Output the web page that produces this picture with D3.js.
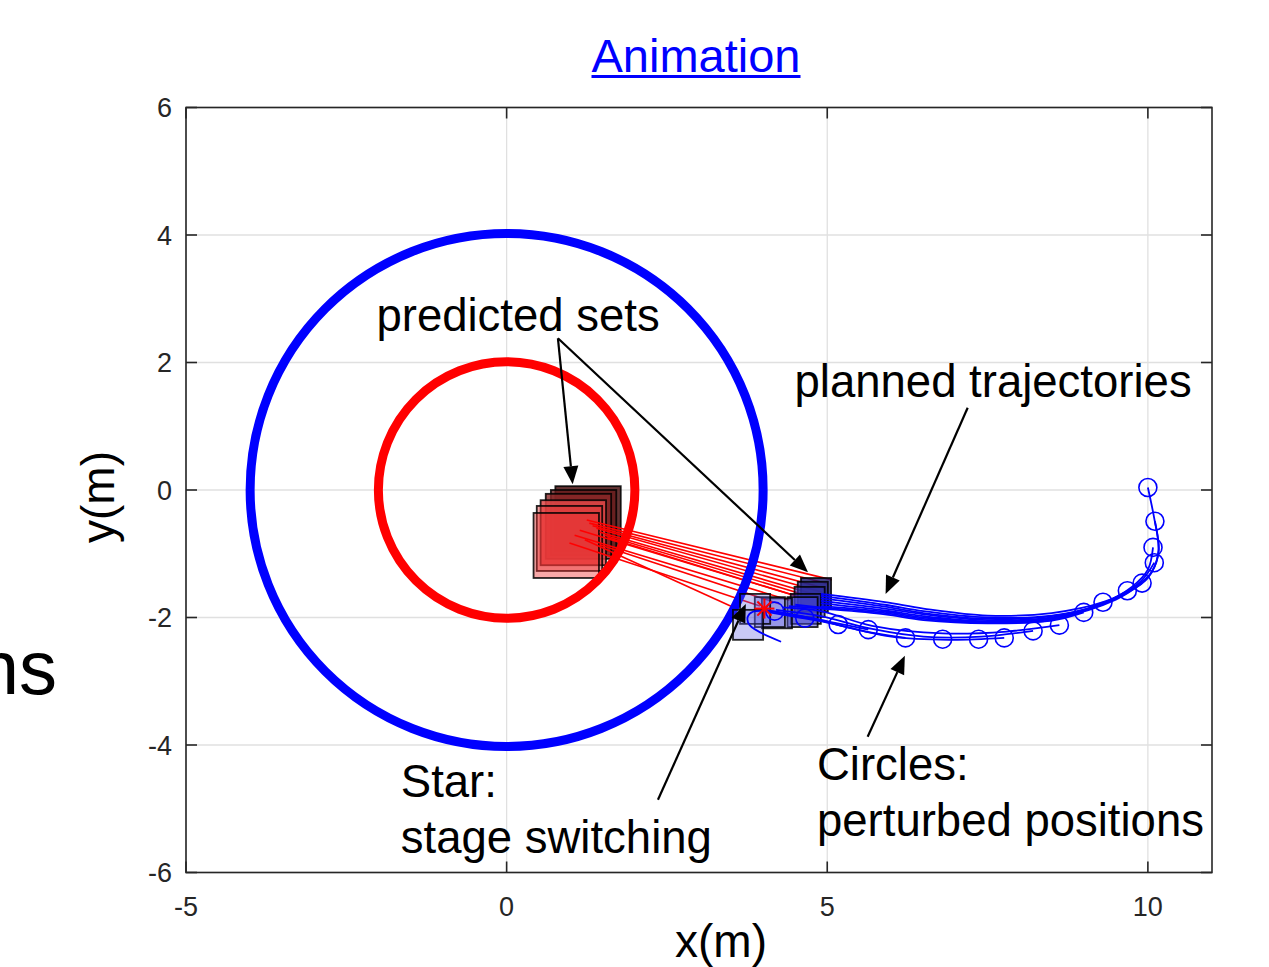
<!DOCTYPE html>
<html><head><meta charset="utf-8">
<script src="https://cdn.jsdelivr.net/npm/d3@7"></script>
<style>
body{margin:0;background:#fff}
svg{display:block}
text{font-family:"Liberation Sans",Arial,Helvetica,sans-serif}
</style>
</head><body>
<svg id="chart" width="1269" height="967"></svg>
<script>
// ---- axis setup ----
const xDomain = [-5, 11];
const yDomain = [-6, 6];
const xTicks = [-5, 0, 5, 10];
const yTicks = [-6, -4, -2, 0, 2, 4, 6];

// ---- reference circles (centred at origin) ----
const safeRadius = 4;      // outer blue ring
const obstacleRadius = 2;  // inner red ring

// ---- perturbed vehicle positions ----
const perturbedX = [10.0, 10.11, 10.08, 10.10, 9.91, 9.68, 9.30, 9.00, 8.62, 8.21, 7.76, 7.36, 6.80, 6.22, 5.64, 5.17, 4.65, 4.18];
const perturbedY = [0.04, -0.49, -0.90, -1.14, -1.46, -1.58, -1.76, -1.92, -2.12, -2.21, -2.32, -2.34, -2.34, -2.32, -2.19, -2.11, -2.01, -1.90];

// ---- stage-switching point ----
const switchPoint = [4.02, -1.86];

// ---- predicted sets of the obstacle: [xmin, ymax, side] ----
const obstacleSets = [
  [0.76, 0.06, 1.02],
  [0.69, 0.00, 1.02],
  [0.61, -0.06, 1.02],
  [0.53, -0.16, 1.02],
  [0.47, -0.25, 1.02],
  [0.42, -0.36, 1.02]
];
const obstacleFill = ["#4a1010", "#6a1c1c", "#8c2828", "#e04848", "#e83838", "#ee3030"];
const obstacleAlpha = [0.85, 0.8, 0.8, 0.85, 0.45, 0.42];

// ---- predicted sets of the vehicle: [xmin, ymax, side] ----
const vehicleSets = [
  [4.59, -1.38, 0.47],
  [4.54, -1.44, 0.47],
  [4.49, -1.52, 0.47],
  [4.43, -1.63, 0.47],
  [4.38, -1.68, 0.47],
  [3.98, -1.70, 0.47],
  [3.87, -1.68, 0.47],
  [3.64, -1.63, 0.47],
  [3.53, -1.88, 0.47]
];
const vehicleFill = ["#1a1a70", "#2a2a90", "#3030b0", "#3838c0", "#4848d0", "#5050d8", "#5858dc", "#5a5ae0", "#5a5ae0"];
const vehicleAlpha = [0.8, 0.7, 0.6, 0.55, 0.5, 0.4, 0.35, 0.33, 0.33];

// ---- relative links between predicted sets: [x0, y0, x1, y1] ----
const links = [
  [1.25, -0.47, 5.07, -1.41],
  [1.29, -0.52, 5.01, -1.47],
  [1.34, -0.56, 4.96, -1.54],
  [1.40, -0.60, 4.91, -1.60],
  [1.45, -0.66, 4.85, -1.65],
  [1.53, -0.71, 4.80, -1.69],
  [1.58, -0.75, 4.73, -1.73],
  [1.14, -0.63, 4.57, -1.68],
  [1.06, -0.71, 4.41, -1.73],
  [0.98, -0.83, 3.95, -1.82],
  [1.22, -0.78, 3.56, -1.85],
  [1.45, -0.86, 4.26, -1.79]
];

// ---- planned trajectories (one per replanning step) ----
const plans = [
  [[10.0,0.04],[10.1,-0.45],[10.17,-0.95],[10.05,-1.3],[9.8,-1.52],[9.3,-1.76],[8.5,-1.93],[7.5,-1.97],[6.5,-1.86],[5.9,-1.76],[4.9,-1.63]],
  [[10.11,-0.49],[10.16,-1.0],[10.0,-1.38],[9.7,-1.6],[9.25,-1.8],[8.5,-1.97],[7.5,-2.0],[6.5,-1.9],[5.9,-1.8],[4.9,-1.66]],
  [[10.08,-0.90],[10.0,-1.25],[9.75,-1.52],[9.3,-1.78],[8.5,-1.98],[7.5,-2.02],[6.5,-1.93],[5.9,-1.83],[4.9,-1.70]],
  [[10.10,-1.14],[9.9,-1.42],[9.4,-1.75],[8.5,-2.0],[7.5,-2.04],[6.5,-1.95],[5.9,-1.86],[4.9,-1.74]],
  [[9.91,-1.46],[9.5,-1.72],[8.6,-2.0],[7.5,-2.06],[6.5,-1.98],[5.9,-1.89],[4.9,-1.78]],
  [[9.68,-1.58],[9.2,-1.82],[8.5,-2.02],[7.5,-2.07],[6.5,-2.0],[5.9,-1.91],[4.9,-1.82]],
  [[9.30,-1.76],[8.5,-2.04],[7.5,-2.08],[6.5,-2.02],[5.9,-1.93],[4.9,-1.84],[4.5,-1.80]],
  [[9.00,-1.92],[8.5,-2.05],[7.5,-2.09],[6.5,-2.04],[5.9,-1.95],[4.9,-1.86],[4.4,-1.82]],
  [[8.62,-2.12],[7.8,-2.22],[6.8,-2.25],[5.7,-2.13],[4.9,-1.90],[4.3,-1.84]],
  [[8.21,-2.21],[7.4,-2.30],[6.5,-2.30],[5.7,-2.18],[4.9,-1.98],[4.2,-1.88]],
  [[7.76,-2.32],[6.9,-2.35],[6.0,-2.30],[5.3,-2.15],[4.9,-2.05],[4.2,-1.92]],
  [[6.22,-2.32],[5.6,-2.22],[5.0,-2.08],[4.5,-1.99],[4.1,-1.92]],
  [[5.64,-2.19],[5.2,-2.10],[4.7,-2.00],[4.2,-1.92]],
  [[5.17,-2.11],[4.6,-1.98],[4.05,-1.88]],
  [[4.28,-2.38],[3.79,-2.12],[3.76,-1.99],[3.84,-1.91],[4.18,-1.91],[4.46,-1.96]]
];

// ---- callouts: label lines, text anchor, arrow tail/head in data units ----
const callouts = [
  {lines: ["predicted sets"], at: [-2.03, 2.50], arrows: [[0.80, 2.38, 1.03, 0.09], [0.80, 2.38, 4.70, -1.29]]},
  {lines: ["planned trajectories"], at: [4.49, 1.46], arrows: [[7.19, 1.29, 5.91, -1.63]]},
  {lines: ["Circles:", "perturbed positions"], at: [4.84, -4.55], arrows: [[5.63, -3.87, 6.21, -2.60]]},
  {lines: ["Star:", "stage switching"], at: [-1.65, -4.82], arrows: [[2.36, -4.86, 3.73, -1.79]]}
];

// ---- drawing ----
const svg = d3.select("#chart");
const m = {left: 186, right: 1212, top: 107.5, bottom: 872.5};
const x = d3.scaleLinear().domain(xDomain).range([m.left, m.right]);
const y = d3.scaleLinear().domain(yDomain).range([m.bottom, m.top]);
const axisColor = "#262626";

svg.append("defs").append("clipPath").attr("id", "plotClip")
  .append("rect").attr("x", m.left).attr("y", m.top)
  .attr("width", m.right - m.left).attr("height", m.bottom - m.top);

// grid
const grid = svg.append("g");
grid.selectAll(".gx").data(xTicks).join("line")
  .attr("x1", d => x(d)).attr("x2", d => x(d))
  .attr("y1", m.top).attr("y2", m.bottom)
  .attr("stroke", "#e0e0e0").attr("stroke-width", 1.3);
grid.selectAll(".gy").data(yTicks).join("line")
  .attr("x1", m.left).attr("x2", m.right)
  .attr("y1", d => y(d)).attr("y2", d => y(d))
  .attr("stroke", "#e0e0e0").attr("stroke-width", 1.3);

const plot = svg.append("g").attr("clip-path", "url(#plotClip)");

// obstacle predicted sets
plot.selectAll(".obs").data(obstacleSets).join("rect")
  .attr("x", d => x(d[0])).attr("y", d => y(d[1]))
  .attr("width", d => x(d[0] + d[2]) - x(d[0]))
  .attr("height", d => y(d[1] - d[2]) - y(d[1]))
  .attr("fill", (d, i) => obstacleFill[i]).attr("fill-opacity", (d, i) => obstacleAlpha[i])
  .attr("stroke", "#000").attr("stroke-opacity", 0.85).attr("stroke-width", 1.8);

// links
plot.selectAll(".lnk").data(links).join("line")
  .attr("x1", d => x(d[0])).attr("y1", d => y(d[1]))
  .attr("x2", d => x(d[2])).attr("y2", d => y(d[3]))
  .attr("stroke", "#ff0000").attr("stroke-width", 1.6);

// rings
plot.append("circle").attr("cx", x(0)).attr("cy", y(0))
  .attr("r", x(safeRadius) - x(0)).attr("fill", "none")
  .attr("stroke", "#0000ff").attr("stroke-width", 9);
plot.append("circle").attr("cx", x(0)).attr("cy", y(0))
  .attr("r", x(obstacleRadius) - x(0)).attr("fill", "none")
  .attr("stroke", "#ff0000").attr("stroke-width", 9);

// vehicle predicted sets
plot.selectAll(".veh").data(vehicleSets).join("rect")
  .attr("x", d => x(d[0])).attr("y", d => y(d[1]))
  .attr("width", d => x(d[0] + d[2]) - x(d[0]))
  .attr("height", d => y(d[1] - d[2]) - y(d[1]))
  .attr("fill", (d, i) => vehicleFill[i]).attr("fill-opacity", (d, i) => vehicleAlpha[i])
  .attr("stroke", "#000").attr("stroke-opacity", 0.85).attr("stroke-width", 1.8);

// planned trajectories
const line = d3.line().x(d => x(d[0])).y(d => y(d[1])).curve(d3.curveCatmullRom.alpha(0.5));
plot.selectAll(".plan").data(plans).join("path")
  .attr("d", line).attr("fill", "none")
  .attr("stroke", "#0000ff").attr("stroke-width", 1.8);

// perturbed positions
plot.selectAll(".pp").data(perturbedX).join("circle")
  .attr("cx", d => x(d)).attr("cy", (d, i) => y(perturbedY[i])).attr("r", 9)
  .attr("fill", "none").attr("stroke", "#0000ff").attr("stroke-width", 1.6);

// stage switching star
const sx = x(switchPoint[0]), sy = y(switchPoint[1]), sr = 10;
const star = plot.append("g").attr("stroke", "#ff0000").attr("stroke-width", 2);
[0, 45, 90, 135].forEach(a => {
  const r = a * Math.PI / 180;
  const dx = Math.cos(r) * sr, dy = Math.sin(r) * sr;
  star.append("line").attr("x1", sx - dx).attr("y1", sy - dy).attr("x2", sx + dx).attr("y2", sy + dy);
});

// axes box and inward ticks
const box = svg.append("g").attr("stroke", axisColor).attr("stroke-width", 1.6).attr("fill", "none");
box.append("rect").attr("x", m.left).attr("y", m.top)
  .attr("width", m.right - m.left).attr("height", m.bottom - m.top);
const tl = 11;
xTicks.forEach(t => {
  box.append("line").attr("x1", x(t)).attr("x2", x(t)).attr("y1", m.bottom).attr("y2", m.bottom - tl);
  box.append("line").attr("x1", x(t)).attr("x2", x(t)).attr("y1", m.top).attr("y2", m.top + tl);
});
yTicks.forEach(t => {
  box.append("line").attr("x1", m.left).attr("x2", m.left + tl).attr("y1", y(t)).attr("y2", y(t));
  box.append("line").attr("x1", m.right).attr("x2", m.right - tl).attr("y1", y(t)).attr("y2", y(t));
});

// tick labels
svg.selectAll(".xl").data(xTicks).join("text")
  .attr("x", d => x(d)).attr("y", 916).attr("text-anchor", "middle")
  .attr("font-size", 27).attr("fill", axisColor).text(d => d);
svg.selectAll(".yl").data(yTicks).join("text")
  .attr("x", 172).attr("y", d => y(d) + 9.5).attr("text-anchor", "end")
  .attr("font-size", 27).attr("fill", axisColor).text(d => d);

// axis titles
svg.append("text").attr("x", 721).attr("y", 957).attr("text-anchor", "middle")
  .attr("font-size", 46).attr("fill", "#000").text("x(m)");
svg.append("text").attr("transform", "translate(114,497) rotate(-90)")
  .attr("text-anchor", "middle").attr("font-size", 46).attr("fill", "#000").text("y(m)");

// title
const title = svg.append("text").attr("x", 696).attr("y", 72).attr("text-anchor", "middle")
  .attr("font-size", 47).attr("fill", "#0000ff").text("Animation");
const tb = title.node().getBBox();
svg.append("line").attr("x1", tb.x).attr("x2", tb.x + tb.width).attr("y1", 76.5).attr("y2", 76.5)
  .attr("stroke", "#0000ff").attr("stroke-width", 3);

// text cut by the left edge of the figure
svg.append("text").attr("x", 57).attr("y", 694).attr("text-anchor", "end")
  .attr("font-size", 76).attr("fill", "#000").text("ns");

// callouts
const ann = svg.append("g");
function arrow(x1, y1, x2, y2) {
  const ang = Math.atan2(y2 - y1, x2 - x1);
  const hl = 18, hw = 7.5;
  const bx = x2 - Math.cos(ang) * hl, by = y2 - Math.sin(ang) * hl;
  ann.append("line").attr("x1", x1).attr("y1", y1).attr("x2", bx).attr("y2", by)
    .attr("stroke", "#000").attr("stroke-width", 2.2);
  const px = -Math.sin(ang) * hw, py = Math.cos(ang) * hw;
  ann.append("path")
    .attr("d", `M${x2},${y2}L${bx + px},${by + py}L${bx - px},${by - py}Z`)
    .attr("fill", "#000");
}
callouts.forEach(c => {
  c.arrows.forEach(a => arrow(x(a[0]), y(a[1]), x(a[2]), y(a[3])));
  c.lines.forEach((t, i) => {
    ann.append("text").attr("x", x(c.at[0])).attr("y", y(c.at[1]) + i * 56)
      .attr("font-size", 45.5).attr("fill", "#000").text(t);
  });
});
</script>
</body></html>
